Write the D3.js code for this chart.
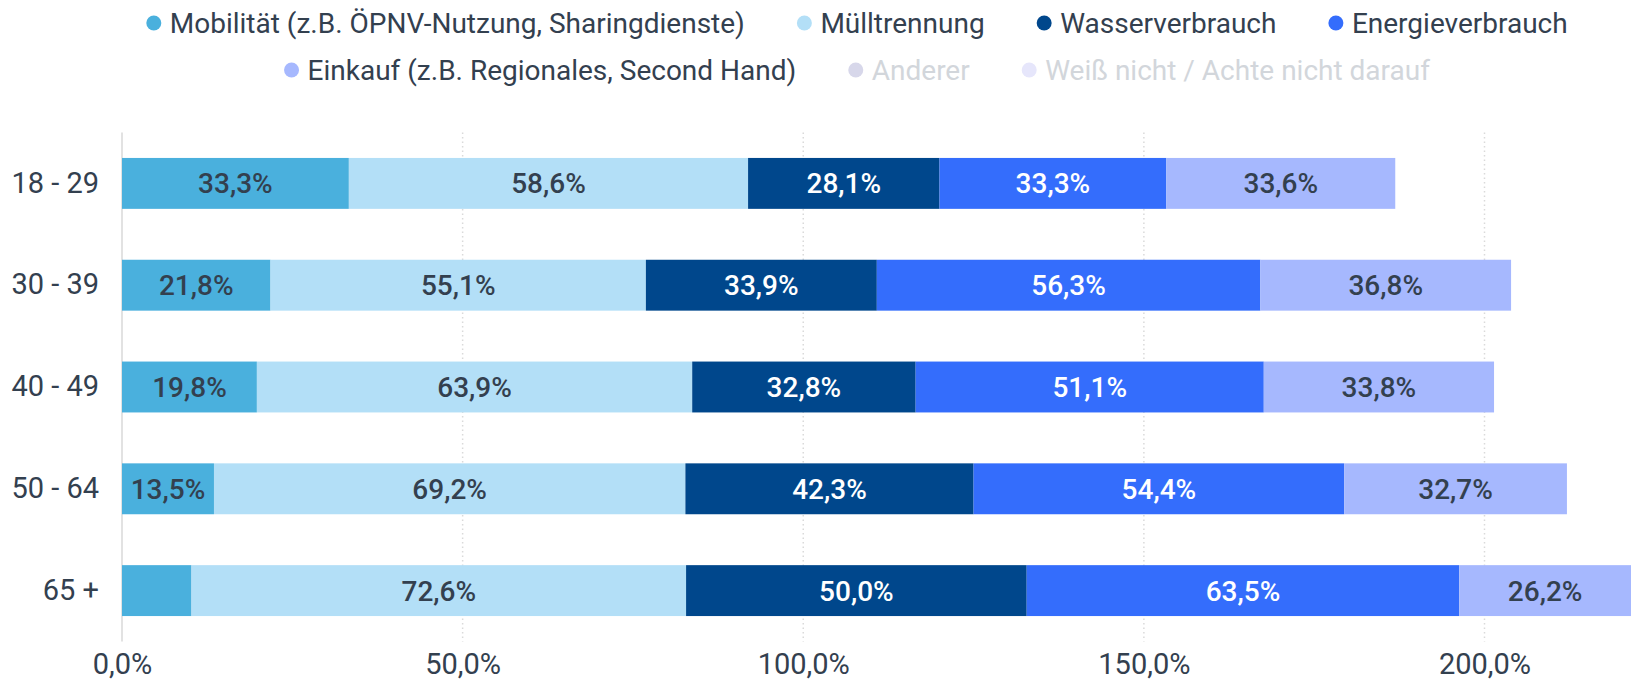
<!DOCTYPE html>
<html>
<head>
<meta charset="utf-8">
<script src="https://cdn.jsdelivr.net/npm/d3@7"></script>
<style>
  html, body { margin: 0; padding: 0; background: #fff; }
  svg { display: block; font-family: Roboto, "Noto Sans", sans-serif; }
</style>
</head>
<body>
<svg id="chart" width="1631" height="679"></svg>
<script>
// Age groups and their answers
const categories = ["18 - 29", "30 - 39", "40 - 49", "50 - 64", "65 +"];
const seriesNames = [
  "Mobilität (z.B. ÖPNV-Nutzung, Sharingdienste)",
  "Mülltrennung",
  "Wasserverbrauch",
  "Energieverbrauch",
  "Einkauf (z.B. Regionales, Second Hand)"
];
const mobilitaet    = [33.3, 21.8, 19.8, 13.5, 10.2];
const muelltrennung = [58.6, 55.1, 63.9, 69.2, 72.6];
const wasser        = [28.1, 33.9, 32.8, 42.3, 50.0];
const energie       = [33.3, 56.3, 51.1, 54.4, 63.5];
const einkauf       = [33.6, 36.8, 33.8, 32.7, 26.2];
// series switched off in the legend (no bars drawn)
const hiddenSeries = ["Anderer", "Weiß nicht / Achte nicht darauf"];
const xTicks = [0, 50, 100, 150, 200];

const colors = ["#4ab0dd", "#b3dff7", "#00478c", "#346dfc", "#a6b8fe"];
const hiddenColors = ["#d7d7ea", "#e6e6fb"];
const labelColors = ["#33404f", "#33404f", "#ffffff", "#ffffff", "#33404f"];
const textColor = "#33404f";

const values = [mobilitaet, muelltrennung, wasser, energie, einkauf];
const rows = categories.map((c, i) => {
  const r = { cat: c };
  seriesNames.forEach((s, j) => { r[s] = values[j][i]; });
  return r;
});

const locale = d3.formatLocale({ decimal: ",", thousands: ".", grouping: [3], currency: ["", "€"] });
const fmt = locale.format(".1f");
const pct = v => fmt(v) + "%";

const svg = d3.select("#chart");
const W = 1631;

const x = d3.scaleLinear().domain([0, 200]).range([122, 1484.5]);
const y = d3.scaleBand().domain(categories).range([132.5, 641.5])
  .paddingInner(0.5).paddingOuter(0.25);

// Grid lines (behind bars)
svg.append("g").selectAll("line")
  .data(xTicks)
  .join("line")
  .attr("x1", d => x(d)).attr("x2", d => x(d))
  .attr("y1", y.range()[0]).attr("y2", y.range()[1])
  .attr("stroke", d => d === 0 ? "#e2e2e2" : "#dadada")
  .attr("stroke-width", d => d === 0 ? 2 : 1.5)
  .attr("stroke-dasharray", d => d === 0 ? null : "1.5,3");

// Stacked bars
const stack = d3.stack().keys(seriesNames)(rows);
const layers = svg.append("g").selectAll("g")
  .data(stack)
  .join("g")
  .attr("fill", (d, i) => colors[i]);

layers.selectAll("rect")
  .data(d => d)
  .join("rect")
  .attr("x", d => x(d[0]))
  .attr("y", d => y(d.data.cat))
  .attr("width", d => x(d[1]) - x(d[0]))
  .attr("height", y.bandwidth());

// Value labels, centred in the visible part of each segment
stack.forEach((layer, i) => {
  layer.forEach(d => {
    const x0 = x(d[0]), x1 = Math.min(x(d[1]), W);
    const t = svg.append("text")
      .attr("x", (x0 + x1) / 2)
      .attr("y", y(d.data.cat) + y.bandwidth() / 2)
      .attr("dy", "0.36em")
      .attr("text-anchor", "middle")
      .attr("font-size", 28)
      .attr("font-weight", 500)
      .attr("fill", labelColors[i])
      .text(pct(d[1] - d[0]));
    if (t.node().getComputedTextLength() + 14 > x1 - x0) t.remove();
  });
});

// Row labels
const yAxis = svg.append("g")
  .attr("transform", `translate(${x(0)},0)`)
  .call(d3.axisLeft(y).tickSize(0).tickPadding(23));
yAxis.select(".domain").remove();
yAxis.selectAll("text")
  .attr("font-size", 29).attr("fill", textColor)
  .attr("font-family", "Roboto, sans-serif");

// X axis labels
const xAxis = svg.append("g")
  .attr("transform", `translate(0,${y.range()[1]})`)
  .call(d3.axisBottom(x).tickValues(xTicks).tickFormat(pct).tickSize(0).tickPadding(12));
xAxis.select(".domain").remove();
xAxis.selectAll("text")
  .attr("font-size", 29).attr("fill", textColor)
  .attr("font-family", "Roboto, sans-serif");

// Legend: two centred rows
const legendRows = [
  seriesNames.slice(0, 4).map((n, i) => ({ name: n, color: colors[i], off: false })),
  [{ name: seriesNames[4], color: colors[4], off: false }]
    .concat(hiddenSeries.map((n, i) => ({ name: n, color: hiddenColors[i], off: true })))
];
const legendCenter = 857;
const legendY = [23, 70];
const dotR = 7.5, textGap = 16, itemGap = 52;

legendRows.forEach((items, r) => {
  const g = svg.append("g");
  const widths = [];
  items.forEach(it => {
    const item = g.append("g");
    item.append("circle").attr("r", dotR).attr("cy", legendY[r]).attr("fill", it.color);
    const t = item.append("text")
      .attr("y", legendY[r]).attr("dy", "0.35em")
      .attr("font-size", 28)
      .attr("fill", it.off ? "#d2d6db" : textColor)
      .text(it.name);
    it.node = item;
    it.text = t;
    widths.push(dotR + textGap + t.node().getComputedTextLength());
  });
  const total = d3.sum(widths) + itemGap * (items.length - 1);
  let cx = legendCenter - total / 2;
  items.forEach((it, k) => {
    it.node.select("circle").attr("cx", cx + dotR);
    it.text.attr("x", cx + dotR + textGap);
    cx += widths[k] + itemGap;
  });
});
</script>
</body>
</html>
